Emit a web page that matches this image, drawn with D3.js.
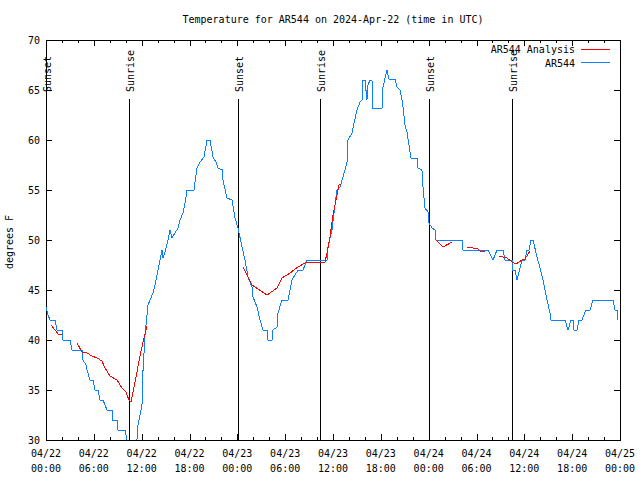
<!DOCTYPE html>
<html><head><meta charset="utf-8">
<script src="https://cdn.jsdelivr.net/npm/d3@7"></script>
<style>
body{margin:0;background:#fff;}
text{font-family:"DejaVu Sans Mono",monospace;font-size:10px;fill:#000;}
</style></head>
<body><svg id="c" width="640" height="480"></svg>
<script>
const titleText = "Temperature for AR544 on 2024-Apr-22 (time in UTC)";
const yLabel = "degrees F";
const seriesNames = ["AR544 Analysis", "AR544"];
const dateLabels = ["04/22","04/23","04/24","04/25"];
const yTicks = [30,35,40,45,50,55,60,65,70];

// hours since 2024-04-22 00:00 UTC
const obsHours = [0,0.25,0.5,1.13,1.38,2.01,2.13,3.01,3.26,4.52,4.64,5.02,5.14,5.52,5.9,6.15,6.52,6.77,7.15,7.65,8.28,8.4,8.91,9.03,9.91,10.16,10.41,10.91,11.29,11.41,11.54,11.79,12.04,12.17,12.42,12.67,12.79,13.05,13.42,13.67,13.92,14.05,14.3,14.55,14.68,14.93,15.3,15.55,15.8,16.18,16.56,16.81,17.18,17.44,17.69,18.56,18.94,19.32,19.82,20.2,20.57,20.95,21.32,21.58,22.15,22.2,22.7,23.33,23.71,24.08,24.59,24.96,25.34,25.84,25.97,26.47,26.84,27.22,27.72,27.85,28.35,28.47,28.98,29.1,29.6,30.36,30.61,30.86,31.23,31.61,32.24,32.74,35.25,35.37,35.87,36.25,36.5,36.88,37.25,37.75,37.88,38.38,38.51,39.01,39.39,39.64,39.76,40.01,40.26,40.39,40.64,40.89,41.01,42.15,42.27,42.77,43.02,43.78,44.03,44.4,44.65,44.78,45.03,45.28,45.53,45.78,46.54,46.66,47.16,47.23,47.29,47.54,47.92,48.04,48.42,48.79,48.92,52.18,52.31,55.44,56.07,56.57,57.32,57.57,58.45,58.57,58.82,59.08,59.45,59.71,60.08,60.34,60.59,60.84,61.09,61.59,61.97,62.34,62.84,63.22,63.35,65.1,65.48,65.86,66.11,66.23,66.61,66.86,67.23,67.73,68.24,68.61,71.12,71.37,71.62,71.75];
const obsTemps = [43.3,42.5,42,42,41,41,40,40,39,39,38,37.5,37,36,36,35,35,34,34,33,33,32,32,31,31,30,28.5,28,29,30,31.5,32.5,33.5,37,40.5,42.5,43.5,44,44.7,45.5,46.5,47,48,49,48.2,48.8,50,51,50.2,50.7,51.2,52,52.7,53.7,55,55,57.2,57.8,58.3,60,60,58.3,57.8,57.2,57,56,54.2,54,52.2,51.2,49.3,48,46.3,45.3,44.3,43.3,42,41,41,40,40,41,41.3,42.7,44,44,45,46,46.5,47,47,48,48,49.3,51,53.5,55,55.3,56.3,57.7,60,60.7,61.2,63,63.8,64,66,66,64,65.5,66,66,63.2,63.2,65.3,67,66.1,66.1,65.3,65,64,63.3,61.5,60.8,59.5,58.2,58.2,57.2,57,56,55.3,53.2,52.8,51.7,51.2,51,50,50,49,49,48,49,49,48,48,47,47,46,47.2,48,48,49,49,50,50,48.3,47.2,46,44,42.7,42,42,41,42,42,41,41,42,42,43,43,44,44,43,43,42];

// analysis series, null separates segments
const anaHours = [0.63,1.13,1.51,2.01,null,3.89,4.52,5.14,5.77,6.4,7.02,7.4,8.03,8.91,9.53,10.03,10.41,10.66,10.91,11.41,11.79,12.17,12.67,null,24.71,25.34,25.84,27.72,28.98,29.6,30.61,31.61,32.49,35.0,35.25,35.62,36.0,36.5,36.75,37.0,null,48.79,49.8,50.93,null,52.81,54.19,54.44,55.07,null,56.82,57.83,58.45,58.96,59.71,60.08,60.71];
const anaTemps = [41.5,41,40.6,40.6,null,39.7,38.8,38.7,38.4,38.2,37.9,37.2,36.4,36,35.2,34.8,34,33.8,34.8,36.8,38.4,39.8,41.4,null,47.3,46.3,45.5,44.5,45.2,46.2,46.7,47.3,47.7,47.8,48.7,50.3,52.5,54.5,55.5,55.6,null,50.1,49.3,49.8,null,49.3,49.1,48.9,48.9,null,48.4,48.2,47.8,47.6,48,48.1,48.9];

const eventNames = ["Sunset","Sunrise","Sunset","Sunrise","Sunset","Sunrise"];
const eventHours = [0.05,10.41,24.08,34.37,48.04,58.45];

const svg = d3.select("#c");
const L=46, R=620, T=40, B=440;
const x = d3.scaleLinear().domain([0,72]).range([L,R]);
const y = d3.scaleLinear().domain([30,70]).range([B,T]);

svg.append("defs").append("clipPath").attr("id","clip")
  .append("rect").attr("x",L).attr("y",T).attr("width",R-L).attr("height",B-T);

svg.append("text").attr("x",333).attr("y",23).attr("text-anchor","middle").text(titleText);
svg.append("text").attr("transform","translate(13,242) rotate(-90)").attr("text-anchor","middle").text(yLabel);

const ax = svg.append("g").attr("shape-rendering","crispEdges").attr("stroke","#000").attr("stroke-width",1);
ax.append("rect").attr("x",L+0.5).attr("y",T+0.5).attr("width",R-L).attr("height",B-T).attr("fill","none");

const xMajor = d3.range(0,73,6), xMinor = d3.range(0,73,2).filter(h=>h%6!==0);
xMajor.forEach(h=>{
  const px=Math.round(x(h))+0.5;
  ax.append("line").attr("x1",px).attr("x2",px).attr("y1",B).attr("y2",B-6);
  ax.append("line").attr("x1",px).attr("x2",px).attr("y1",T).attr("y2",T+6);
});
xMinor.forEach(h=>{
  const px=Math.round(x(h))+0.5;
  ax.append("line").attr("x1",px).attr("x2",px).attr("y1",B).attr("y2",B-3);
  ax.append("line").attr("x1",px).attr("x2",px).attr("y1",T).attr("y2",T+3);
});
xMajor.forEach(h=>{
  const d = dateLabels[Math.floor(h/24)];
  const t = String(h%24).padStart(2,"0")+":00";
  svg.append("text").attr("x",x(h)).attr("y",457).attr("text-anchor","middle").text(d);
  svg.append("text").attr("x",x(h)).attr("y",472).attr("text-anchor","middle").text(t);
});
yTicks.forEach(v=>{
  const py=Math.round(y(v))+0.5;
  ax.append("line").attr("x1",L).attr("x2",L+6).attr("y1",py).attr("y2",py);
  ax.append("line").attr("x1",R).attr("x2",R-6).attr("y1",py).attr("y2",py);
  svg.append("text").attr("x",40).attr("y",y(v)+4).attr("text-anchor","end").text(v);
});

eventHours.forEach((h,i)=>{
  const px=Math.round(x(h))+0.5;
  ax.append("line").attr("x1",px).attr("x2",px).attr("y1",99).attr("y2",B);
  svg.append("text").attr("transform",`translate(${x(h)+5},92) rotate(-90)`).attr("text-anchor","start").text(eventNames[i]);
});

svg.append("text").attr("x",575).attr("y",53).attr("text-anchor","end").text(seriesNames[0]);
svg.append("text").attr("x",575).attr("y",67).attr("text-anchor","end").text(seriesNames[1]);
svg.append("line").attr("x1",581).attr("x2",610).attr("y1",49.5).attr("y2",49.5).attr("stroke","#ff0000");
svg.append("line").attr("x1",581).attr("x2",610).attr("y1",62.5).attr("y2",62.5).attr("stroke","#0a80ff");

const plot = svg.append("g").attr("clip-path","url(#clip)");
const obs = obsHours.map((h,i)=>[h,obsTemps[i]]);
const ana = anaHours.map((h,i)=>[h,anaTemps[i]]);
const line = d3.line().defined(d=>d[0]!==null && d[1]!==null).x(d=>x(d[0])).y(d=>y(d[1]));
plot.append("path").attr("d",line(obs)).attr("fill","none").attr("stroke","#0a80ff").attr("stroke-width",1).attr("shape-rendering","crispEdges");
plot.append("path").attr("d",line(ana)).attr("fill","none").attr("stroke","#ff0000").attr("stroke-width",1).attr("shape-rendering","crispEdges");
</script></body></html>
